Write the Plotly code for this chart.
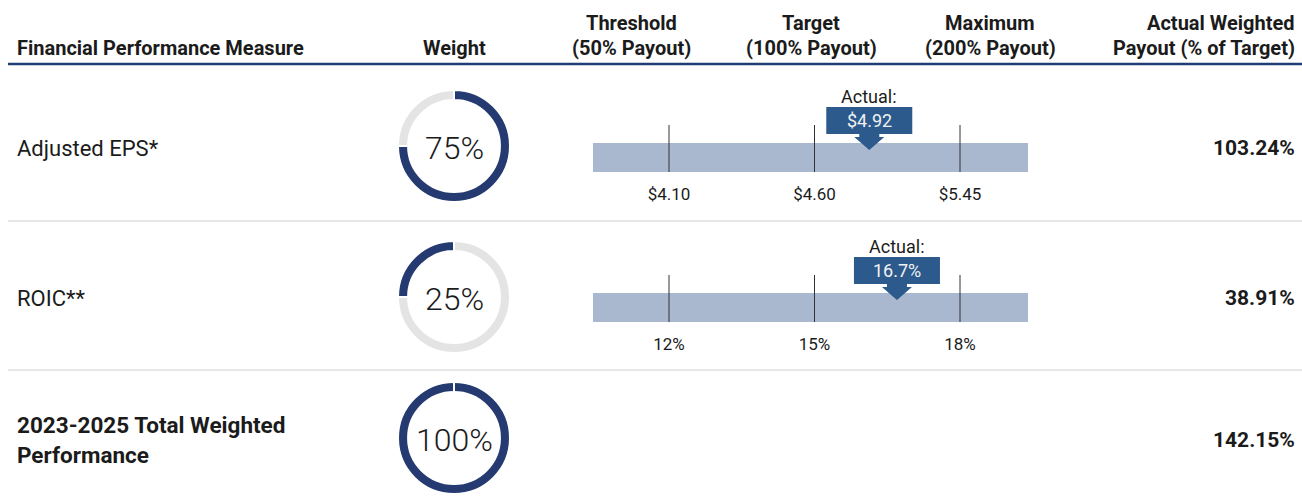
import numpy as np
import plotly.graph_objects as go

# ---------------- data ----------------
measures = ["Adjusted EPS*", "ROIC**"]
weights = [75, 25]
level_values = [[4.10, 4.60, 5.45], [12, 15, 18]]
level_labels = [["$4.10", "$4.60", "$5.45"], ["12%", "15%", "18%"]]
actual_values = [4.92, 16.7]
actual_labels = ["$4.92", "16.7%"]
weighted_payouts = ["103.24%", "38.91%"]
total_label = ["2023-2025 Total Weighted", "Performance"]
total_weight = 100
total_payout = "142.15%"
header_cols = [
    ("", "Financial Performance Measure"),
    ("", "Weight"),
    ("Threshold", "(50% Payout)"),
    ("Target", "(100% Payout)"),
    ("Maximum", "(200% Payout)"),
    ("Actual Weighted", "Payout (% of Target)"),
]

# ---------------- layout constants ----------------
W, H = 1302, 499
U = 145.5          # px per level step on the bar axis
X0 = 669           # px of the first level
FONT = "Roboto"
TXT = "#1b1b1b"
NAVY = "#243a70"
RING_GRAY = "#e4e4e4"
BAR = "#a9b7cf"
CALLOUT = "#2c5a8d"
RULE = "#1f3c74"
LEFT_X, RIGHT_X = 15, 1297

def pxx(p):
    return p / W

def to_unit(px):
    return px / U

fig = go.Figure()
annotations = []
shapes = []

# header
header_x = [LEFT_X, 454, 631, 811, 990, RIGHT_X]
header_anchor = ["left", "center", "center", "center", "center", "right"]
for (l1, l2), hx, ha in zip(header_cols, header_x, header_anchor):
    for txt, yy in ((l1, 23), (l2, 48)):
        if txt:
            annotations.append(dict(x=pxx(hx), y=yy, xref="paper", yref="y", text=txt,
                                    showarrow=False, xanchor=ha, yanchor="middle",
                                    font=dict(family=FONT, size=20, color=TXT, weight=700)))
shapes.append(dict(type="line", xref="paper", yref="y", x0=pxx(8), x1=1, y0=64, y1=64,
                   line=dict(color=RULE, width=2.5)))
for sy in (221, 370):
    shapes.append(dict(type="line", xref="paper", yref="y", x0=pxx(8), x1=1, y0=sy, y1=sy,
                       line=dict(color="#cfcfcf", width=1.2)))

row_text_y = [148, 298]
bar_top = [143, 293]
bar_h = 29
donut_cy = [146, 297]
donut_cx = 454
R = 56

def donut(cy, weight, cum):
    fig.add_trace(go.Pie(values=[weight, 100 - weight], marker=dict(colors=[NAVY, RING_GRAY],
                         line=dict(color="white", width=2)),
                         hole=0.82, sort=False, direction="clockwise", rotation=360 * cum / 100,
                         textinfo="none", hoverinfo="skip", showlegend=False,
                         domain=dict(x=[pxx(donut_cx - R), pxx(donut_cx + R)],
                                     y=[1 - (cy + R) / H, 1 - (cy - R) / H])))
    annotations.append(dict(x=pxx(donut_cx), y=cy + 2, xref="paper", yref="y", text=f"{weight}%",
                            showarrow=False, xanchor="center", yanchor="middle",
                            font=dict(family=FONT, size=32, color=TXT, weight=300)))

cum = 0
bar_start, bar_end = -0.52, 2.47
for i, m in enumerate(measures):
    annotations.append(dict(x=pxx(LEFT_X), y=row_text_y[i], xref="paper", yref="y", text=m,
                            showarrow=False, xanchor="left", yanchor="middle",
                            font=dict(family=FONT, size=22, color=TXT)))
    donut(donut_cy[i], weights[i], cum)
    cum += weights[i]

    bt = bar_top[i]
    fig.add_trace(go.Bar(x=[bar_end - bar_start], base=[bar_start], y=[bt + bar_h / 2],
                         width=bar_h, orientation="h", marker=dict(color=BAR, line=dict(width=0)),
                         hoverinfo="skip", showlegend=False))
    idx = np.arange(len(level_values[i]))
    tx, ty = [], []
    for k in idx:
        tx += [k, k, None]
        ty += [bt - 18, bt + bar_h, None]
    fig.add_trace(go.Scatter(x=tx, y=ty, mode="lines", line=dict(color="#333333", width=1),
                             hoverinfo="skip", showlegend=False))
    fig.add_trace(go.Scatter(x=idx, y=[bt + 53] * len(idx), mode="text", text=level_labels[i],
                             textposition="middle center",
                             textfont=dict(family=FONT, size=17, color=TXT),
                             hoverinfo="skip", showlegend=False))

    # actual callout
    pos = float(np.interp(actual_values[i], level_values[i], idx))
    bw, sw, hw = to_unit(43), to_unit(10), to_unit(15)
    y_top, y_bot = bt - 36, bt - 9
    path = (f"M {pos - bw},{y_top} L {pos + bw},{y_top} L {pos + bw},{y_bot} "
            f"L {pos + sw},{y_bot} L {pos + sw},{y_bot + 3} L {pos + hw},{y_bot + 3} "
            f"L {pos},{bt + 7} L {pos - hw},{y_bot + 3} L {pos - sw},{y_bot + 3} "
            f"L {pos - sw},{y_bot} L {pos - bw},{y_bot} Z")
    shapes.append(dict(type="path", xref="x", yref="y", path=path,
                       fillcolor=CALLOUT, line=dict(width=0), layer="above"))
    annotations.append(dict(x=pos, y=(y_top + y_bot) / 2, xref="x", yref="y",
                            text=actual_labels[i], showarrow=False,
                            font=dict(family=FONT, size=18, color="#f2f2f2")))
    annotations.append(dict(x=pos, y=bt - 47, xref="x", yref="y", text="Actual:",
                            showarrow=False, font=dict(family=FONT, size=18, color=TXT)))

    annotations.append(dict(x=pxx(RIGHT_X), y=row_text_y[i], xref="paper", yref="y",
                            text=f"<b>{weighted_payouts[i]}</b>", showarrow=False,
                            xanchor="right", yanchor="middle",
                            font=dict(family=FONT, size=21, color=TXT)))

# total row
for txt, yy in zip(total_label, (425, 455)):
    annotations.append(dict(x=pxx(LEFT_X), y=yy, xref="paper", yref="y", text=f"<b>{txt}</b>",
                            showarrow=False, xanchor="left", yanchor="middle",
                            font=dict(family=FONT, size=22.5, color=TXT)))
donut(438, total_weight, 0)
annotations.append(dict(x=pxx(RIGHT_X), y=440, xref="paper", yref="y", text=f"<b>{total_payout}</b>",
                        showarrow=False, xanchor="right", yanchor="middle",
                        font=dict(family=FONT, size=21, color=TXT)))

fig.update_layout(
    width=W, height=H, margin=dict(l=0, r=0, t=0, b=0),
    paper_bgcolor="white", plot_bgcolor="white", showlegend=False,
    xaxis=dict(range=[-X0 / U, (W - X0) / U], visible=False, fixedrange=True, domain=[0, 1]),
    yaxis=dict(range=[H, 0], visible=False, fixedrange=True, domain=[0, 1]),
    annotations=annotations, shapes=shapes, bargap=0,
)

fig.write_html("out.html", config={"displayModeBar": False},
               post_script="document.body.style.margin='0';document.body.style.overflow='hidden';")
